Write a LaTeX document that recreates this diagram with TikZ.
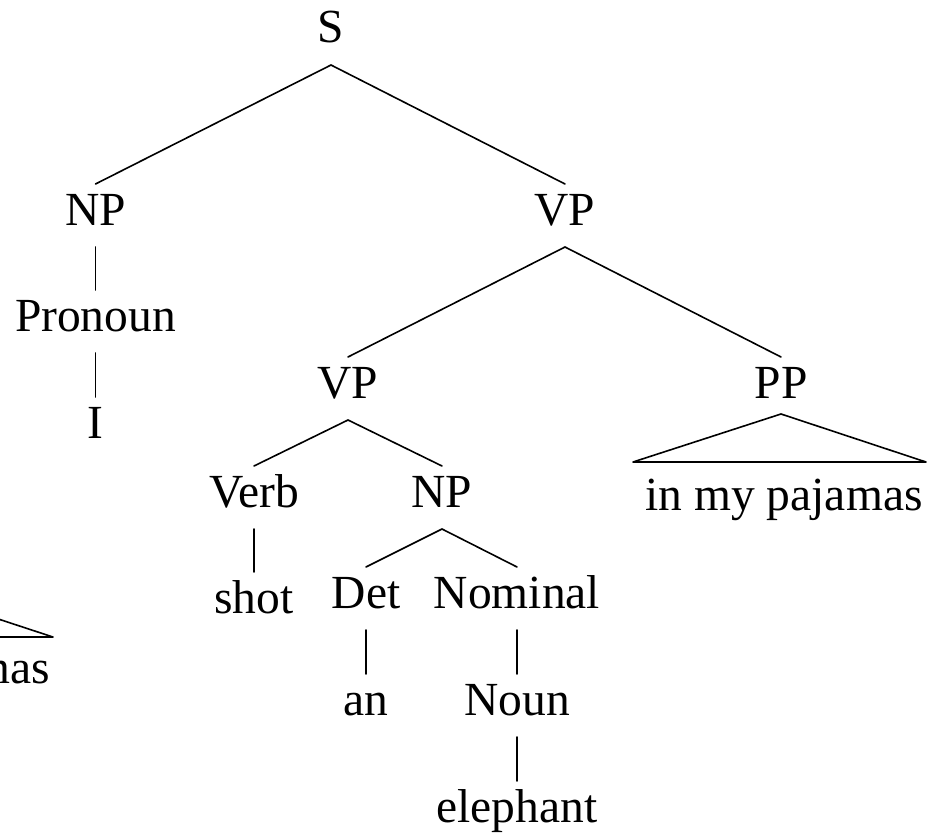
\documentclass[tikz,border=0pt]{standalone}
\usepackage{fontspec}
\setmainfont{Liberation Serif}
\newcommand\treebr[2]{\draw[branch] ([yshift=-22pt]#1.base) -- ([yshift=41pt]#2.base);}
\begin{document}
\begin{tikzpicture}[x=1pt,y=-1pt,
  every node/.style={inner sep=0pt, font=\fontsize{47.5}{57}\selectfont, anchor=base},
  branch/.style={line width=1.6pt, line cap=round, line join=round}]
\useasboundingbox (0,0) rectangle (944,832);
\clip (0,0) rectangle (944,832);
% nodes
\node (S) at (331,43) {S};
\node (NP) at (95.5,225) {NP};
\node (VP) at (565,225) {VP};
\node (Pron) at (95.5,331) {Pronoun};
\node (I) at (95.5,438) {I};
\node (VPb) at (348,398) {VP};
\node (PP) at (781,398) {PP};
\node (Verb) at (254,507) {Verb};
\node (NPb) at (442,507) {NP};
\node (shot) at (254,613) {shot};
\node (Det) at (366,608) {Det};
\node (Nom) at (517,608) {Nominal};
\node (an) at (366,715) {an};
\node (Noun) at (517,715) {Noun};
\node (eleph) at (517,822) {elephant};
\node (pptext) at (784,510) {in my pajamas};
\node[anchor=base east] (lptext) at (50,683) {in my pajamas};
% branches
\treebr{S}{NP}
\treebr{S}{VP}
\treebr{NP}{Pron}
\treebr{Pron}{I}
\treebr{VP}{VPb}
\treebr{VP}{PP}
\treebr{VPb}{Verb}
\treebr{VPb}{NPb}
\treebr{Verb}{shot}
\treebr{NPb}{Det}
\treebr{NPb}{Nom}
\treebr{Det}{an}
\treebr{Nom}{Noun}
\treebr{Noun}{eleph}
% triangles
\coordinate (ppL) at (633,462);
\coordinate (ppR) at (926,462);
\draw[branch] (ppL) -- ([yshift=-16pt]PP.base) -- (ppR) -- cycle;
\coordinate (lpL) at (-240,637);
\coordinate (lpA) at (-93,589);
\coordinate (lpR) at (53,637);
\draw[branch] (lpL) -- (lpA) -- (lpR) -- cycle;
\end{tikzpicture}
\end{document}
